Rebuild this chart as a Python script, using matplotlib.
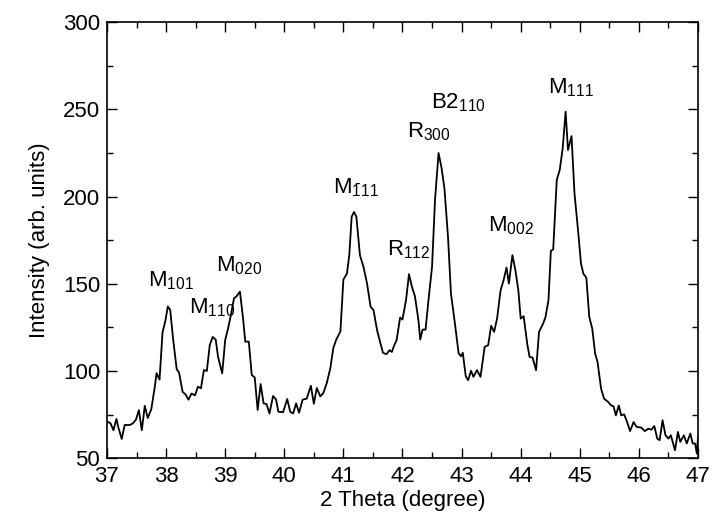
import matplotlib
matplotlib.use("Agg")
import matplotlib.pyplot as plt
from matplotlib.ticker import MultipleLocator

# XRD pattern
two_theta = [37.00, 37.06, 37.11, 37.16, 37.19, 37.25, 37.30, 37.39, 37.44, 37.49,
             37.54, 37.59, 37.64, 37.69, 37.75, 37.81, 37.84, 37.89, 37.94, 37.99,
             38.03, 38.07, 38.12, 38.18, 38.22, 38.28, 38.33, 38.38, 38.43, 38.49,
             38.54, 38.59, 38.64, 38.69, 38.74, 38.79, 38.84, 38.88, 38.95, 39.00,
             39.05, 39.09, 39.15, 39.19, 39.25, 39.30, 39.34, 39.40, 39.45, 39.50,
             39.55, 39.60, 39.65, 39.70, 39.75, 39.81, 39.86, 39.90, 39.98, 40.05,
             40.10, 40.15, 40.20, 40.25, 40.31, 40.38, 40.45, 40.50, 40.55, 40.61,
             40.66, 40.72, 40.78, 40.83, 40.88, 40.95, 41.00, 41.06, 41.10, 41.14,
             41.18, 41.22, 41.28, 41.34, 41.40, 41.46, 41.51, 41.57, 41.62, 41.67,
             41.73, 41.78, 41.82, 41.86, 41.90, 41.96, 42.00, 42.06, 42.11, 42.16,
             42.21, 42.27, 42.30, 42.34, 42.39, 42.44, 42.50, 42.55, 42.61, 42.66,
             42.71, 42.77, 42.82, 42.88, 42.95, 42.99, 43.02, 43.07, 43.11, 43.16,
             43.20, 43.26, 43.32, 43.39, 43.45, 43.50, 43.55, 43.60, 43.66, 43.71,
             43.76, 43.80, 43.86, 43.91, 43.96, 44.00, 44.05, 44.11, 44.15, 44.20,
             44.26, 44.31, 44.38, 44.42, 44.47, 44.51, 44.55, 44.61, 44.66, 44.71,
             44.76, 44.80, 44.86, 44.91, 44.97, 45.02, 45.06, 45.11, 45.16, 45.21,
             45.26, 45.30, 45.36, 45.41, 45.48, 45.53, 45.57, 45.61, 45.66, 45.70,
             45.75, 45.80, 45.85, 45.91, 45.96, 46.04, 46.10, 46.16, 46.21, 46.26,
             46.31, 46.35, 46.40, 46.45, 46.50, 46.54, 46.61, 46.66, 46.70, 46.76,
             46.81, 46.87, 46.91, 46.95, 46.98, 47.00]
intensity = [71, 70, 66, 72.5, 68, 61, 69, 69, 70, 72,
             77.5, 66, 80, 73, 78, 91, 98.7, 95, 122, 129,
             137, 135, 118, 101, 99, 88, 86.5, 83.5, 87, 86,
             91, 90, 100.5, 100, 115, 119.5, 118, 108, 98.6, 117.7,
             124.5, 131, 141.7, 142.7, 145.5, 131, 116.8, 116.8, 97.6, 96.3,
             77.6, 92.5, 81.4, 81, 75.6, 85.6, 83.7, 76.6, 76.3, 83.9,
             76.6, 75.6, 81.4, 76, 83.5, 84.1, 91.5, 81.2, 90.2, 85.4,
             87.3, 93.1, 101.7, 113.2, 118, 122.7, 152.4, 155.8, 166.4, 188.4,
             191.2, 188.4, 166.4, 159.7, 150.2, 136.8, 134.9, 123.4, 116.7, 110.4,
             109.6, 111.9, 110.9, 114.7, 117.6, 130.6, 129.5, 140.6, 155.5, 148.2,
             142.9, 129.1, 118, 123.7, 123.7, 140.6, 159.7, 197.9, 225, 216.6,
             204.6, 176.9, 144.4, 129.1, 110, 108.4, 110.4, 97, 94.7, 100.1,
             96.6, 100.5, 96.6, 113.8, 114.8, 125.9, 122.4, 130, 146.3, 152,
             159.3, 150.1, 166.4, 157.8, 146.3, 130, 131.4, 115.7, 108, 107.7,
             100.4, 122.4, 127.2, 131, 140.6, 168.9, 169.7, 209.5, 215.2, 227.6,
             248.7, 226.7, 234.7, 201.8, 180.7, 161.6, 155.8, 153.5, 131, 124.3,
             109.9, 105.1, 89.8, 84.1, 82.2, 80.2, 79.8, 74.5, 80.2, 74.5,
             75.1, 70.7, 65.5, 70.7, 67.9, 67.5, 65.5, 66.9, 66.3, 68.4,
             61.2, 60.3, 71.7, 63.1, 61.2, 63.1, 54.5, 65, 59.3, 63.1,
             58.4, 64.1, 58.4, 58.4, 52.6, 62.2]

# peak labels: text, x, y (baseline-left)
peak_labels = [r"M$_{101}$", r"M$_{110}$", r"M$_{020}$", r"M$_{\bar{1}11}$",
               r"R$_{112}$", r"R$_{300}$", r"B2$_{110}$", r"M$_{002}$", r"M$_{111}$"]
peak_x = [37.69, 38.38, 38.84, 40.82, 41.74, 42.07, 42.48, 43.45, 44.47]
peak_y = [148.6, 133.1, 156.8, 201.8, 166.4, 234.2, 250.5, 179.8, 259.1]

plt.rcParams['font.family'] = ['Liberation Sans', 'DejaVu Sans']
plt.rcParams['mathtext.default'] = 'regular'
plt.rcParams['font.size'] = 16

fig = plt.figure(figsize=(7.13, 5.29), dpi=100)
ax = fig.add_axes([0.150, 0.134, 0.829, 0.824])

ax.plot(two_theta, intensity, color='black', linewidth=1.3)

for txt, x, y in zip(peak_labels, peak_x, peak_y):
    ax.text(x, y, txt, ha='left', va='baseline', fontsize=16)

ax.set_xlim(37, 47)
ax.set_ylim(50, 300)
ax.xaxis.set_major_locator(MultipleLocator(1))
ax.xaxis.set_minor_locator(MultipleLocator(0.5))
ax.yaxis.set_major_locator(MultipleLocator(50))
ax.yaxis.set_minor_locator(MultipleLocator(25))
ax.tick_params(which='both', direction='in', top=True, right=True, width=1.0)
ax.tick_params(which='major', length=7)
ax.tick_params(axis='x', which='major', pad=6)
ax.tick_params(axis='y', which='major', pad=5)
ax.tick_params(which='minor', length=4)
for s in ax.spines.values():
    s.set_linewidth(1.2)

ax.set_xlabel('2 Theta (degree)', labelpad=2)
ax.set_ylabel('Intensity (arb. units)', labelpad=9)

fig.savefig('out.png', dpi=100)
